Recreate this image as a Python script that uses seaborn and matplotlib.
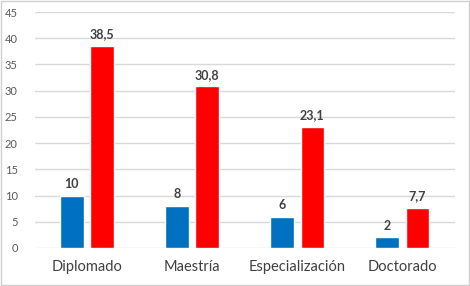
import numpy as np
import pandas as pd
import matplotlib
matplotlib.use("Agg")
import matplotlib.pyplot as plt
import seaborn as sns

categorias = ['Diplomado', 'Maestría', 'Especialización', 'Doctorado']
frecuencia = [10, 8, 6, 2]
porcentaje = [38.5, 30.8, 23.1, 7.7]
series = ['Frecuencia', 'Porcentaje']
colores = {'Frecuencia': '#0070C0', 'Porcentaje': '#FF0000'}

sns.set_theme(style="whitegrid")
plt.rcParams['font.family'] = ['Lato', 'DejaVu Sans']

df = pd.DataFrame({
    'categoria': categorias * 2,
    'serie': [series[0]] * len(categorias) + [series[1]] * len(categorias),
    'valor': frecuencia + porcentaje,
})

fig = plt.figure(figsize=(4.7, 2.86), dpi=100)
ax = fig.add_axes([0.0735, 0.133, 0.894, 0.825])
sns.barplot(data=df, x='categoria', y='valor', hue='serie', palette=colores,
            width=0.58, gap=0.22, ax=ax, legend=False, saturation=1)

def fmt(v):
    return ('%g' % v).replace('.', ',')

for cont in ax.containers:
    ax.bar_label(cont, labels=[fmt(b.get_height()) for b in cont], padding=4,
                 fontsize=9, fontweight='bold', color='#404040')

ax.set_ylim(0, 45)
ax.set_yticks(np.arange(0, 46, 5))
ax.set_xlim(-0.5, 3.5)
ax.set_xlabel('')
ax.set_ylabel('')
ax.grid(axis='y', color='#d9d9d9', linewidth=1)
ax.grid(axis='x', visible=False)
for s in ax.spines.values():
    s.set_visible(False)
ax.tick_params(axis='y', labelsize=8, colors='#595959', length=0, pad=12)
ax.tick_params(axis='x', labelsize=10.5, colors='#404040', length=0, pad=9)

fig.patches.append(plt.Rectangle((0.003, 0.004), 0.994, 0.992, transform=fig.transFigure,
                                 fill=False, edgecolor='#d0d0d0', linewidth=1))
fig.savefig('out.png', dpi=100)
